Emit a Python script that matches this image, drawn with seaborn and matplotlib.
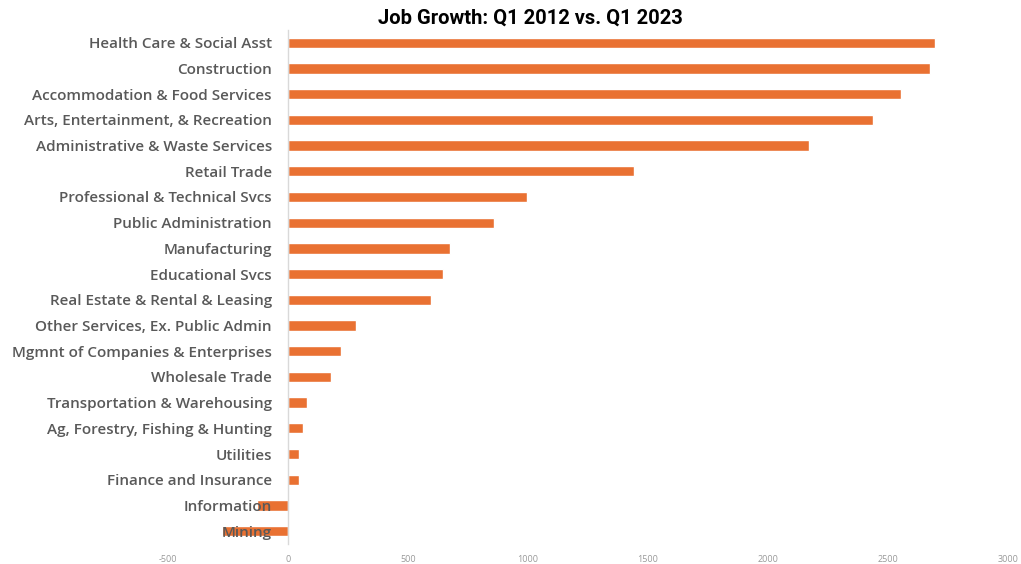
import matplotlib
matplotlib.use("Agg")
import matplotlib.pyplot as plt
import seaborn as sns
import pandas as pd

industries = [
    "Health Care & Social Asst",
    "Construction",
    "Accommodation & Food Services",
    "Arts, Entertainment, & Recreation",
    "Administrative & Waste Services",
    "Retail Trade",
    "Professional & Technical Svcs",
    "Public Administration",
    "Manufacturing",
    "Educational Svcs",
    "Real Estate & Rental & Leasing",
    "Other Services, Ex. Public Admin",
    "Mgmnt of Companies & Enterprises",
    "Wholesale Trade",
    "Transportation & Warehousing",
    "Ag, Forestry, Fishing & Hunting",
    "Utilities",
    "Finance and Insurance",
    "Information",
    "Mining",
]
job_growth = [2696, 2675, 2554, 2438, 2171, 1442, 996, 858, 675, 646,
              596, 283, 221, 179, 79, 61, 47, 45, -130, -275]
x_ticks = [-500, 0, 500, 1000, 1500, 2000, 2500, 3000]

df = pd.DataFrame({"industry": industries, "growth": job_growth})

sns.set_theme(style="white")
plt.rcParams["font.family"] = ["Open Sans", "DejaVu Sans"]

fig = plt.figure(figsize=(10.21, 5.64), dpi=100)
ax = fig.add_axes([0.1645, 0.0355, 0.8225, 0.9115])

sns.barplot(data=df, x="growth", y="industry", orient="h",
            color="#E97132", width=0.4, saturation=1, ax=ax)

# category labels sit in front of the negative bars
ax.set_axisbelow(False)

ax.set_xlim(-500, 3000)
ax.set_ylim(len(industries) - 0.5, -0.5)
ax.set_xticks(x_ticks)
ax.set_xticklabels([str(t) for t in x_ticks], fontsize=6.5, color="#999999")
ax.set_xlabel("")
ax.set_ylabel("")

for side in ["top", "right", "bottom"]:
    ax.spines[side].set_visible(False)
ax.spines["left"].set_position(("data", 0))
ax.spines["left"].set_color("#d9d9d9")
ax.spines["left"].set_linewidth(1.0)

ax.tick_params(axis="both", length=0)
ax.tick_params(axis="y", pad=11.5)
ax.tick_params(axis="x", pad=8)
for lab in ax.get_yticklabels():
    lab.set_fontsize(11)
    lab.set_fontweight("semibold")
    lab.set_color("#595959")

fig.suptitle("Job Growth: Q1 2012 vs. Q1 2023", x=0.52, y=0.985,
             fontsize=14.5, fontweight="bold", color="black",
             family=["Liberation Sans Narrow", "Roboto", "DejaVu Sans"])

fig.savefig("out.png", dpi=100)
